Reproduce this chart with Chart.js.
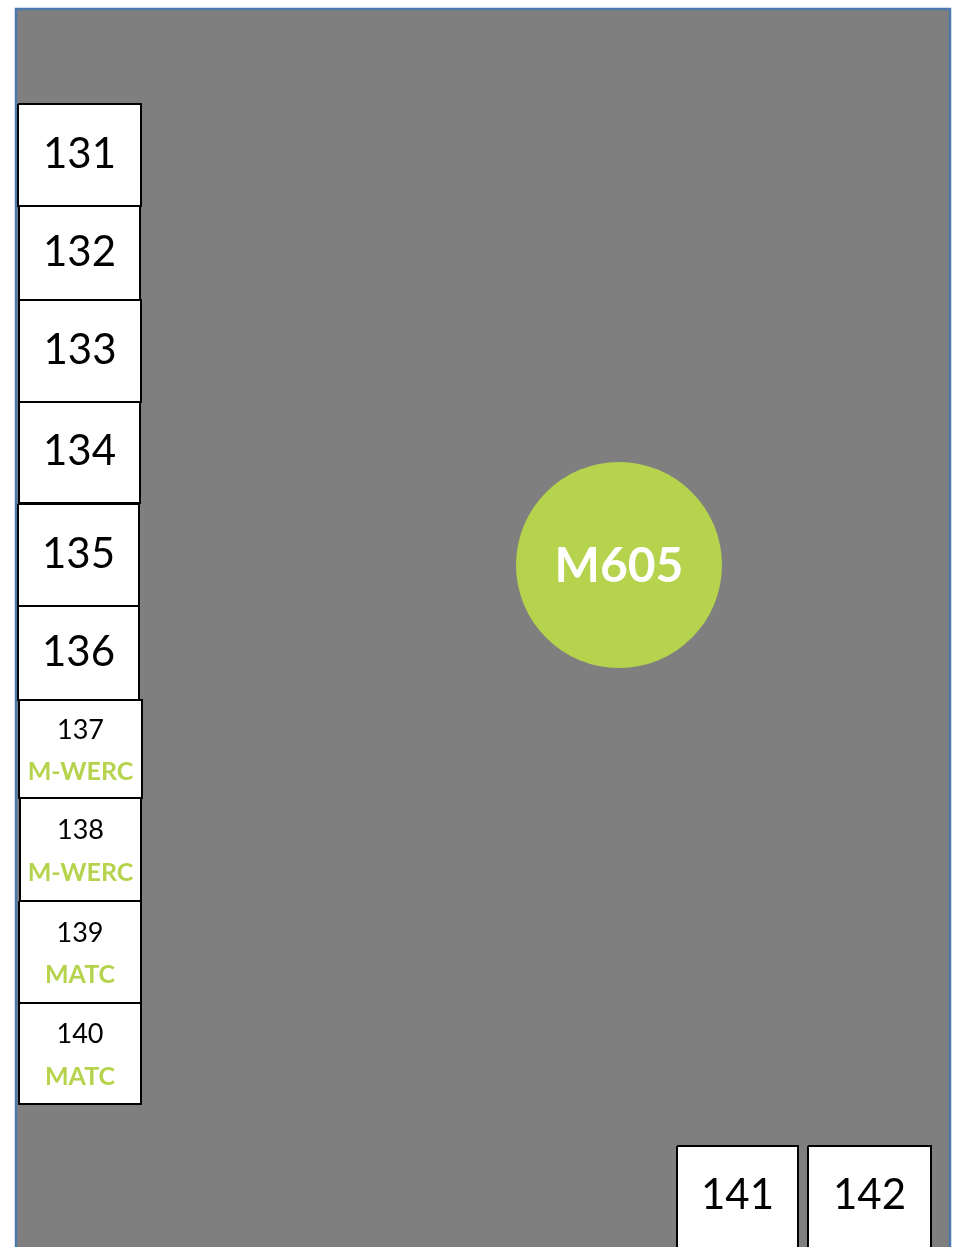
<html>
<head>
<meta charset="utf-8" />
<title>Floor plan M605</title>
<style>
  body { margin: 0; background: #ffffff; }
  #plan { display: block; }
</style>
</head>
<body>
<canvas id="plan" width="962" height="1247"></canvas>

<script src="https://cdn.jsdelivr.net/npm/chart.js"></script>
<script>

// rooms along the west wall and the south wall (plan units)
const roomNames = ['131', '132', '133', '134', '135', '136', '137', '138', '139', '140', '141', '142'];
const roomTenants = ['', '', '', '', '', '', 'M-WERC', 'M-WERC', 'MATC', 'MATC', '', ''];
const roomLeft   = [18, 19, 19, 19, 18, 18, 19, 20, 19, 19, 677, 808];
const roomRight  = [141, 140, 141, 140, 139, 139, 142, 141, 141, 141, 798, 931];
const roomTop    = [104, 206, 300, 402, 504, 606, 700, 798, 901, 1003, 1146, 1146];
const roomBottom = [206, 300, 402, 503, 606, 700, 798, 901, 1003, 1104, 1250, 1250];

// hall outline and the central space
const hallX = [16, 16, 950, 950];
const hallY = [1252, 9, 9, 1252];
const spaceName = 'M605';
const spaceX = 619;
const spaceY = 565;
const spaceR = 103;

const GRAY = '#7f7f7f';
const BLUE = '#4d78ad';
const GREEN = '#b5d34d';

var datasets = [];

datasets.push({
  label: 'hall',
  data: hallX.map((x, i) => ({x: x, y: hallY[i]})),
  showLine: true,
  fill: 'shape',
  backgroundColor: GRAY,
  borderColor: BLUE,
  borderWidth: 2.5,
  pointRadius: 0,
  tension: 0,
  order: 3
});

for (var i = 0; i < roomNames.length; i++) {
  datasets.push({
    label: roomNames[i],
    data: [
      {x: roomLeft[i], y: roomTop[i]},
      {x: roomRight[i], y: roomTop[i]},
      {x: roomRight[i], y: roomBottom[i]},
      {x: roomLeft[i], y: roomBottom[i]},
      {x: roomLeft[i], y: roomTop[i]}
    ],
    showLine: true,
    fill: 'shape',
    backgroundColor: '#ffffff',
    borderColor: '#000000',
    borderWidth: 2,
    pointRadius: 0,
    tension: 0,
    order: 2
  });
}

datasets.push({
  label: spaceName,
  type: 'bubble',
  data: [{x: spaceX, y: spaceY, r: spaceR}],
  backgroundColor: GREEN,
  borderWidth: 0,
  order: 1
});

// room numbers, tenants and the space name
const labelPlugin = {
  id: 'planLabels',
  afterDatasetsDraw(chart) {
    const ctx = chart.ctx;
    const xs = chart.scales.x, ys = chart.scales.y;
    ctx.save();
    ctx.textAlign = 'center';
    ctx.textBaseline = 'middle';
    for (var i = 0; i < roomNames.length; i++) {
      var cx = xs.getPixelForValue((roomLeft[i] + roomRight[i]) / 2);
      var bottom = Math.min(roomBottom[i], 1247);
      var cy = ys.getPixelForValue((roomTop[i] + bottom) / 2);
      if (roomTenants[i]) {
        ctx.fillStyle = '#000000';
        ctx.font = '27px Lato';
        ctx.fillText(roomNames[i], cx, cy - 19);
        ctx.fillStyle = GREEN;
        ctx.font = 'bold 25px Lato';
        ctx.fillText(roomTenants[i], cx, cy + 23);
      } else {
        ctx.fillStyle = '#000000';
        ctx.font = '42px Lato';
        ctx.fillText(roomNames[i], cx, cy - 1);
      }
    }
    ctx.fillStyle = '#ffffff';
    ctx.font = 'bold 48px Lato';
    ctx.fillText(spaceName, xs.getPixelForValue(spaceX), ys.getPixelForValue(spaceY + 2));
    ctx.restore();
  }
};

var plan = new Chart(document.getElementById('plan'), {
  type: 'scatter',
  data: { datasets: datasets },
  options: {
    responsive: false,
    animation: false,
    layout: { autoPadding: false, padding: 0 },
    scales: {
      x: { type: 'linear', min: 0, max: 962, display: false },
      y: { type: 'linear', min: 0, max: 1247, reverse: true, display: false }
    },
    plugins: {
      legend: { display: false },
      tooltip: { enabled: false },
      filler: { propagate: false }
    }
  },
  plugins: [labelPlugin]
});

</script>
</body>
</html>
